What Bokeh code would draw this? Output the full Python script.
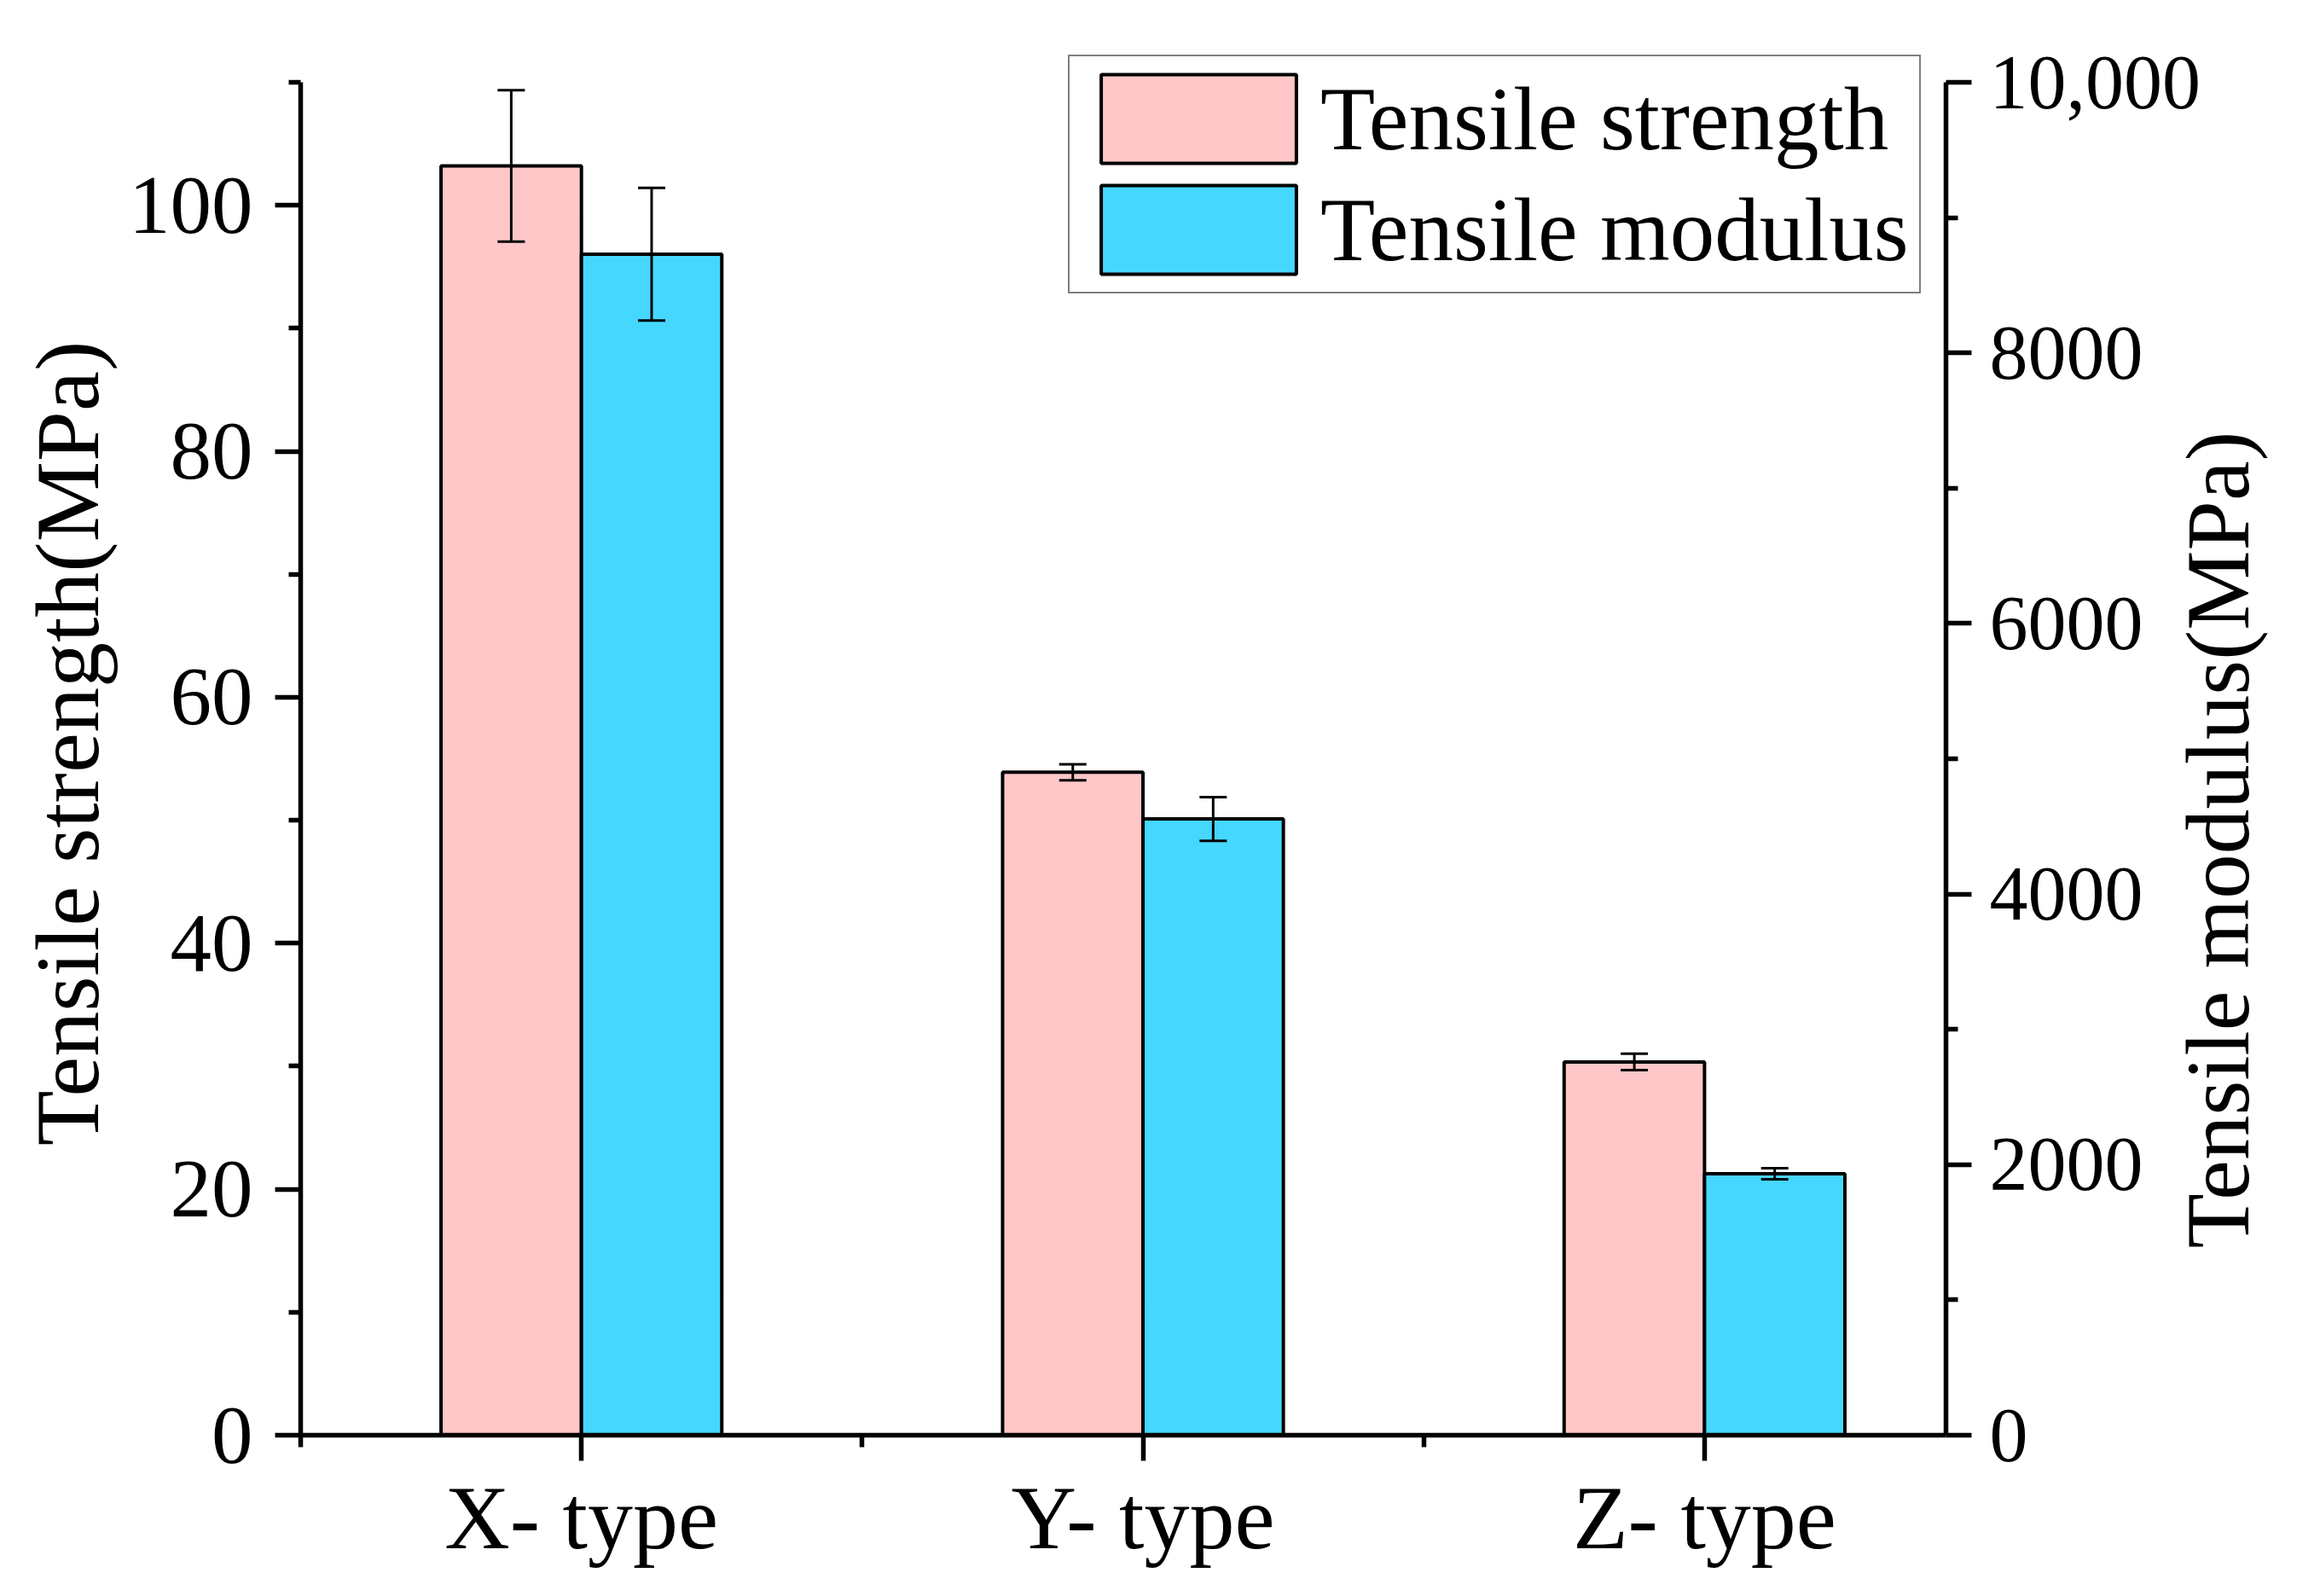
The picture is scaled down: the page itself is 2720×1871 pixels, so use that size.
import math
import numpy as np
from bokeh.plotting import figure
from bokeh.models import (ColumnDataSource, Range1d, LinearAxis, FixedTicker,
                          Whisker, TeeHead, Legend, LegendItem)
from bokeh.core.properties import value
from bokeh.embed import file_html
from bokeh.resources import INLINE

# ---------------- data ----------------
categories = ["X- type", "Y- type", "Z- type"]
series_names = ["Tensile strength", "Tensile modulus"]
strength = [103.2, 53.9, 30.35]          # MPa (left axis)
strength_err = [6.15, 0.65, 0.67]
modulus = [8730, 4555, 1932]             # MPa (right axis)
modulus_err = [490, 162, 41]

left_ticks = [0, 20, 40, 60, 80, 100]
left_minor = [10, 30, 50, 70, 90, 110]
left_max = 110
right_ticks = [0, 2000, 4000, 6000, 8000, 10000]
right_tick_labels = ["0", "2000", "4000", "6000", "8000", "10,000"]
right_minor = [1000, 3000, 5000, 7000, 9000]
right_max = 10000
x_minor = [0.5, 1.5, 2.5, 3.5]
left_title = "Tensile strength(MPa)"
right_title = "Tensile modulus(MPa)"

# ---------------- style / layout ----------------
PINK = "#FFC7C7"
BLUE = "#46D7FF"
FONT = "Liberation Serif"
BAR_W = 0.25

W, H = 2720, 1855
FRAME_L, FRAME_R = 352, 2282          # page pixels
AXIS_TOP, FRAME_B = 96, 1682          # where the y axes end
FRAME_T = 60                          # frame a bit higher so the legend fits
ext = (FRAME_B - FRAME_T) / (FRAME_B - AXIS_TOP)
RT_START = 1463                       # page y where the right title starts

pos = np.arange(1, len(categories) + 1)
s_arr = np.array(strength, dtype=float)
se_arr = np.array(strength_err, dtype=float)
m_arr = np.array(modulus, dtype=float)
me_arr = np.array(modulus_err, dtype=float)

src_s = ColumnDataSource(dict(x=pos - BAR_W / 2, top=s_arr,
                              upper=s_arr + se_arr, lower=s_arr - se_arr))
src_m = ColumnDataSource(dict(x=pos + BAR_W / 2, top=m_arr,
                              upper=m_arr + me_arr, lower=m_arr - me_arr))

p = figure(width=W, height=H, output_backend="svg", toolbar_location=None,
           x_range=Range1d(0.5, 3.43), y_range=Range1d(0, left_max * ext),
           min_border_left=FRAME_L, min_border_right=W - FRAME_R,
           min_border_top=FRAME_T, min_border_bottom=H - FRAME_B)
p.extra_y_ranges = {"mod": Range1d(0, right_max * ext)}
p.xgrid.visible = False
p.ygrid.visible = False
p.outline_line_color = None
p.background_fill_color = "white"
p.border_fill_color = "white"


def style_axis(ax, tick_size, standoff):
    ax.axis_line_width = 5.5
    ax.axis_line_color = "black"
    ax.major_tick_line_width = 5.5
    ax.minor_tick_line_width = 5.5
    ax.major_tick_line_color = "black"
    ax.minor_tick_line_color = "black"
    ax.major_tick_in = 0
    ax.major_tick_out = 30
    ax.minor_tick_in = 0
    ax.minor_tick_out = 14
    ax.major_label_text_font = FONT
    ax.major_label_text_font_size = tick_size
    ax.major_label_text_color = "black"
    ax.major_label_standoff = standoff
    ax.axis_label_text_font = FONT
    ax.axis_label_text_font_size = "106px"
    ax.axis_label_text_font_style = "normal"
    ax.axis_label_text_color = "black"


# left axis
yl = p.yaxis[0]
yl.ticker = FixedTicker(ticks=left_ticks, minor_ticks=left_minor)
yl.bounds = (0, left_max)
yl.axis_label = left_title
style_axis(yl, "97px", 26)
yl.axis_label_standoff = 10

# bottom axis
xb = p.xaxis[0]
xb.ticker = FixedTicker(ticks=[int(v) for v in pos], minor_ticks=x_minor)
xb.major_label_overrides = {int(v): c for v, c in zip(pos, categories)}
style_axis(xb, "106px", 8)

# right axis
yr = LinearAxis(y_range_name="mod",
                ticker=FixedTicker(ticks=right_ticks, minor_ticks=right_minor),
                bounds=(0, right_max))
yr.major_label_overrides = {int(t): l for t, l in zip(right_ticks, right_tick_labels)}
style_axis(yr, "90px", 21)
p.add_layout(yr, "right")

# right axis title: an extra, line-less axis whose single label reads bottom-to-top
t_val = int(round((FRAME_B - RT_START) / (FRAME_B - AXIS_TOP) * right_max))
yt = LinearAxis(y_range_name="mod", ticker=FixedTicker(ticks=[t_val], minor_ticks=[]))
yt.major_label_overrides = {t_val: right_title}
yt.axis_line_color = None
yt.major_tick_line_color = None
yt.minor_tick_line_color = None
yt.major_tick_in = 0
yt.major_tick_out = 0
yt.minor_tick_in = 0
yt.minor_tick_out = 0
yt.major_label_standoff = 17
yt.major_label_orientation = math.pi / 2
yt.major_label_text_font = FONT
yt.major_label_text_font_size = "105px"
yt.major_label_text_color = "black"
p.add_layout(yt, "right")

# bars
r_s = p.vbar(x="x", top="top", bottom=0, width=BAR_W, source=src_s,
             fill_color=PINK, line_color="black", line_width=4)
r_m = p.vbar(x="x", top="top", bottom=0, width=BAR_W, source=src_m,
             fill_color=BLUE, line_color="black", line_width=4, y_range_name="mod")

# error bars
for src, rng in ((src_s, "default"), (src_m, "mod")):
    w = Whisker(source=src, base="x", upper="upper", lower="lower",
                line_width=3, line_color="black", y_range_name=rng, level="overlay",
                upper_head=TeeHead(size=32, line_width=3, line_color="black"),
                lower_head=TeeHead(size=32, line_width=3, line_color="black"))
    p.add_layout(w)

# legend
legend = Legend(items=[LegendItem(label=value(series_names[0]), renderers=[r_s]),
                       LegendItem(label=value(series_names[1]), renderers=[r_m])],
                location=(1252 - FRAME_L, FRAME_B - 344), orientation="vertical",
                glyph_width=286, glyph_height=130, spacing=0, padding=8, margin=0,
                label_standoff=0, label_width=694,
                label_text_font=FONT, label_text_font_size="105px",
                label_text_color="black",
                border_line_color="black", border_line_width=2.5,
                background_fill_color="white", background_fill_alpha=1.0)
p.add_layout(legend)

open("out.html", "w").write(file_html(p, INLINE))
